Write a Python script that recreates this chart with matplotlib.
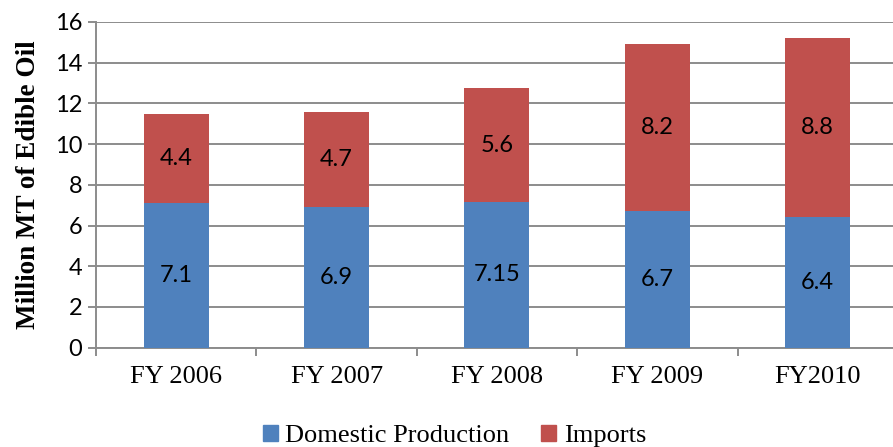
import numpy as np
import matplotlib.pyplot as plt
from matplotlib.patches import Patch

years = ["FY 2006", "FY 2007", "FY 2008", "FY 2009", "FY2010"]
domestic = [7.1, 6.9, 7.15, 6.7, 6.4]
imports = [4.4, 4.7, 5.6, 8.2, 8.8]
dom_labels = ["7.1", "6.9", "7.15", "6.7", "6.4"]
imp_labels = ["4.4", "4.7", "5.6", "8.2", "8.8"]

blue = "#4F81BD"
red = "#C0504D"
grid_col = "#8C8C8C"

fig = plt.figure(figsize=(8.93, 4.47), dpi=100)
ax = fig.add_axes([0.1075, 0.2222, 0.898, 0.7286])

x = np.arange(len(years))
w = 0.405
ax.bar(x, domestic, w, color=blue, zorder=3)
ax.bar(x, imports, w, bottom=domestic, color=red, zorder=3)

for i in range(len(years)):
    ax.text(x[i], domestic[i] / 2, dom_labels[i], ha="center", va="center",
            fontsize=17, family="Lato", zorder=4)
    ax.text(x[i], domestic[i] + imports[i] / 2, imp_labels[i], ha="center",
            va="center", fontsize=17, family="Lato", zorder=4)

ax.set_xlim(-0.5, len(years) - 0.5)
ax.set_ylim(0, 16)
ax.set_yticks(range(0, 17, 2))
ax.grid(axis="y", color=grid_col, linewidth=1.4, zorder=0)

for s in ["top", "right"]:
    ax.spines[s].set_visible(False)
for s in ["left", "bottom"]:
    ax.spines[s].set_color(grid_col)
    ax.spines[s].set_linewidth(1.4)

ax.tick_params(axis="y", length=6, width=1.4, color=grid_col, pad=4,
               labelsize=17)
for lab in ax.get_yticklabels():
    lab.set_family("Lato")

ax.set_xticks(np.arange(-0.5, len(years), 1.0))
ax.set_xticklabels([])
ax.tick_params(axis="x", which="major", length=5.5, width=1.4, color=grid_col)
ax.set_xticks(x, minor=True)
ax.set_xticklabels(years, minor=True, fontsize=19, family="Liberation Serif")
ax.tick_params(axis="x", which="minor", length=0, pad=13)

ax.set_ylabel("Million MT of Edible Oil", fontsize=19.5, fontweight="bold",
              family="Liberation Serif", labelpad=10)

handles = [Patch(color=blue, label="Domestic Production"),
           Patch(color=red, label="Imports")]
fig.legend(handles=handles, loc="center", bbox_to_anchor=(0.509, 0.024),
           ncol=2, frameon=False, prop={"family": "Liberation Serif", "size": 19},
           handlelength=0.55, handleheight=0.55, handletextpad=0.3,
           columnspacing=1.2, borderpad=0)

fig.savefig("out.png", dpi=100)
